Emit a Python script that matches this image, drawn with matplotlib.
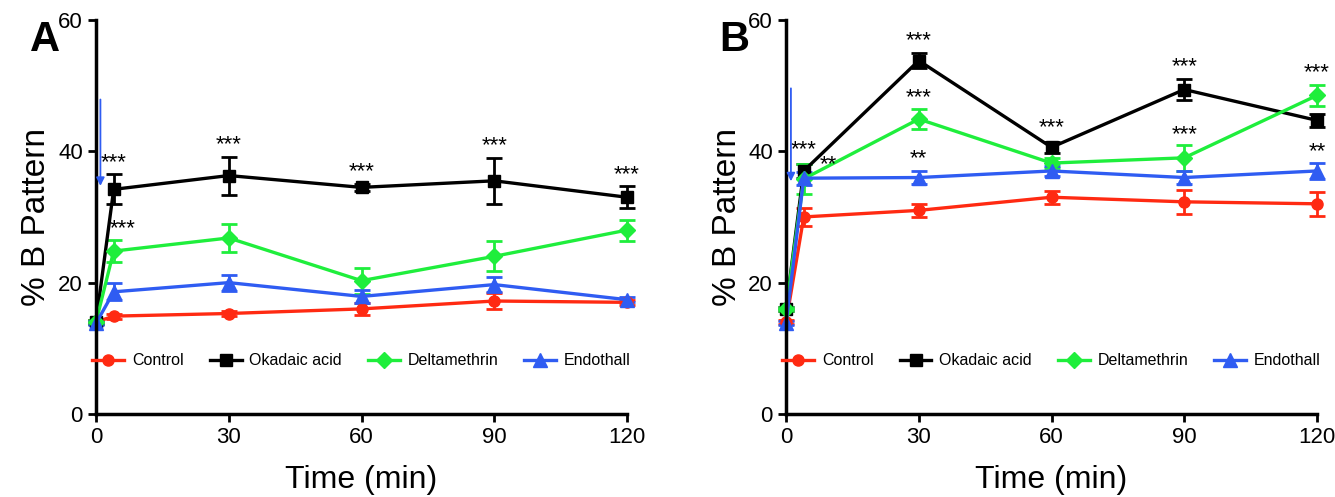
import matplotlib
matplotlib.use("Agg")
import matplotlib.pyplot as plt
from matplotlib.lines import Line2D

time = [0, 4, 30, 60, 90, 120]
series_names = ["Control", "Okadaic acid", "Deltamethrin", "Endothall"]

# Panel A
a_control = [14.0, 14.9, 15.3, 16.0, 17.2, 17.0]
a_control_err = [0.3, 0.4, 0.4, 0.9, 1.2, 0.4]
a_okadaic = [14.0, 34.2, 36.3, 34.5, 35.5, 33.0]
a_okadaic_err = [0.3, 2.3, 2.9, 0.5, 3.5, 1.7]
a_delta = [14.0, 24.8, 26.8, 20.3, 24.0, 28.0]
a_delta_err = [0.3, 1.7, 2.2, 2.0, 2.3, 1.6]
a_endo = [13.8, 18.6, 20.0, 17.9, 19.7, 17.4]
a_endo_err = [0.3, 1.3, 1.2, 1.0, 1.2, 0.4]

# Panel B
b_control = [14.0, 30.0, 31.0, 33.0, 32.3, 32.0]
b_control_err = [0.3, 1.4, 1.0, 1.0, 1.8, 1.8]
b_okadaic = [16.0, 37.0, 53.8, 40.6, 49.4, 44.7]
b_okadaic_err = [0.3, 1.0, 1.2, 0.8, 1.6, 1.0]
b_delta = [16.0, 35.8, 44.9, 38.2, 39.0, 48.5]
b_delta_err = [0.3, 2.3, 1.5, 0.8, 2.0, 1.6]
b_endo = [13.8, 35.9, 36.0, 37.0, 36.0, 37.0]
b_endo_err = [0.3, 1.0, 1.0, 0.8, 1.0, 1.2]

# significance annotations: (time, y, text)
a_stars = [(4, 36.6, "***"), (30, 39.4, "***"), (60, 35.3, "***"), (90, 39.2, "***"),
           (120, 34.9, "***"), (6, 26.6, "***")]
b_stars = [(4, 38.6, "***"), (30, 55.2, "***"), (30, 46.6, "***"), (60, 42.0, "***"),
           (90, 51.2, "***"), (90, 40.9, "***"), (120, 50.3, "***"), (9.5, 36.4, "**"),
           (30, 37.2, "**"), (120, 38.3, "**")]

colors = ["#ff2a12", "#000000", "#1fee3c", "#2f5cf2"]
markers = ["o", "s", "D", "^"]
msizes = [8, 9, 8, 10]

plt.rcParams['font.family'] = ["Liberation Sans", "DejaVu Sans"]

fig = plt.figure(figsize=(13.35, 4.97), dpi=100)
axA = fig.add_axes([0.0719, 0.167, 0.3978, 0.793])
axB = fig.add_axes([0.5888, 0.167, 0.3977, 0.793])

panels = [
    (axA, [(a_control, a_control_err), (a_okadaic, a_okadaic_err), (a_delta, a_delta_err), (a_endo, a_endo_err)], a_stars, "A", (1.0, 48.3, 34.3)),
    (axB, [(b_control, b_control_err), (b_okadaic, b_okadaic_err), (b_delta, b_delta_err), (b_endo, b_endo_err)], b_stars, "B", (1.1, 50.0, 35.0)),
]

for ax, data, stars, letter, arrow in panels:
    handles = []
    for (vals, errs), c, m, ms, name in zip(data, colors, markers, msizes, series_names):
        ax.errorbar(time, vals, yerr=errs, color=c, marker=m, markersize=ms,
                    lw=2.4, elinewidth=2.0, capsize=6, capthick=2.0,
                    clip_on=False)
        handles.append(Line2D([], [], color=c, marker=m, markersize=ms, lw=2.4, label=name))
    for x, y, t in stars:
        ax.text(x, y, t, ha="center", va="bottom", fontsize=16, color="black")
    ax.annotate("", xy=(arrow[0], arrow[2]), xytext=(arrow[0], arrow[1]),
                arrowprops=dict(arrowstyle="-|>", color="#2f5cf2", lw=1.3,
                                mutation_scale=12))
    ax.set_xlim(0, 120)
    ax.set_ylim(0, 60)
    ax.set_xticks([0, 30, 60, 90, 120])
    ax.set_yticks([0, 20, 40, 60])
    ax.spines["top"].set_visible(False)
    ax.spines["right"].set_visible(False)
    ax.spines["left"].set_linewidth(2.5)
    ax.spines["bottom"].set_linewidth(2.5)
    ax.tick_params(axis="both", width=2.0, length=6, labelsize=16)
    ax.set_xlabel("Time (min)", fontsize=23, labelpad=12)
    ax.set_ylabel("% B Pattern", fontsize=24, labelpad=4)
    ax.legend(handles=handles, loc="lower center", bbox_to_anchor=(0.5, 0.08),
              ncol=4, frameon=False, fontsize=11.5, handlelength=2.0,
              columnspacing=1.6, handletextpad=0.5)
    ax.text(-0.125, 1.0, letter, transform=ax.transAxes, fontsize=30,
            fontweight="bold", ha="left", va="top")

fig.savefig("out.png", dpi=100)
